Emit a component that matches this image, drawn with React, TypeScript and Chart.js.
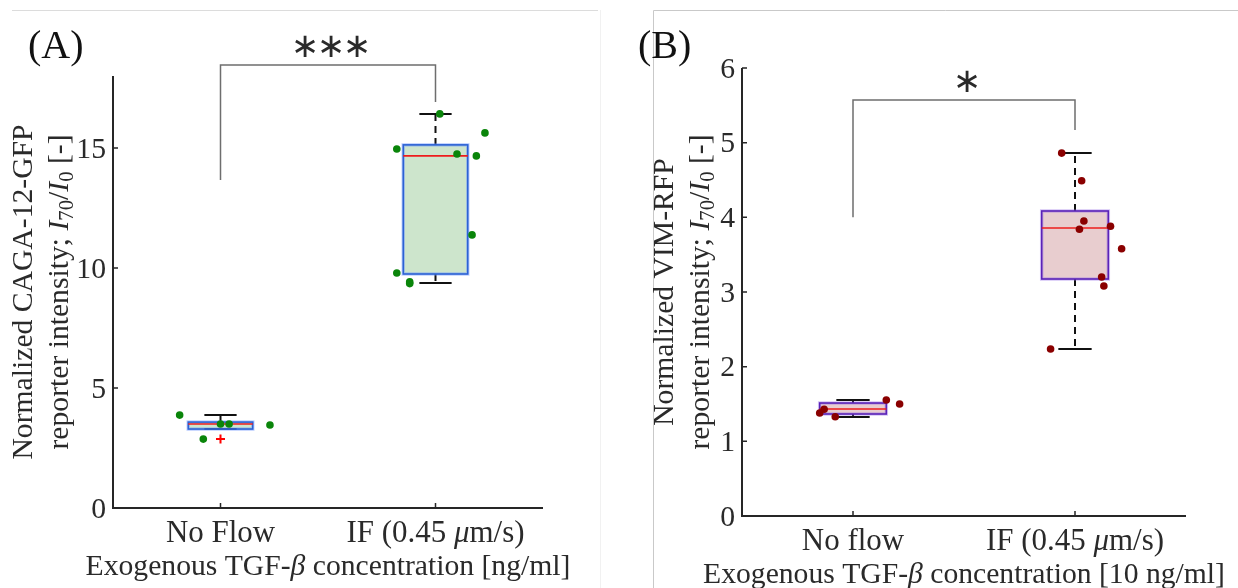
import { useEffect, useRef } from "react";
import { Chart, registerables } from "chart.js";
Chart.register(...registerables);

// ---------------- DATA ----------------
// Panel A (CAGA-12-GFP)
const categoriesA = ["No Flow", "IF (0.45 {μ}m/s)"];
const q1A = [3.29, 9.75];
const medianA = [3.5, 14.67];
const q3A = [3.58, 15.13];
const whiskerLowA = [3.29, 9.38];
const whiskerHighA = [3.87, 16.42];
const pointsNoFlowA = [3.87, 2.87, 3.5, 3.5, 3.46];
const jitterNoFlowA = [-0.19, -0.08, 0.0, 0.04, 0.23];
const pointsIFA = [16.42, 15.63, 14.96, 14.75, 14.67, 11.38, 9.79, 9.42, 9.35];
const jitterIFA = [0.02, 0.23, -0.18, 0.1, 0.19, 0.17, -0.18, -0.12, -0.12];
const outlierCatA = [1];
const outlierValA = [2.87];
const yTicksA = [0, 5, 10, 15];
const yMaxA = 18;
const yTitleA = ["Normalized CAGA-12-GFP", "reporter intensity; {I}_{70}/{I}_{0} [-]"];
const xTitleA = "Exogenous TGF-{β} concentration [ng/ml]";

// Panel B (VIM-RFP)
const categoriesB = ["No flow", "IF (0.45 {μ}m/s)"];
const q1B = [1.366, 3.174];
const medianB = [1.433, 3.857];
const q3B = [1.513, 4.085];
const whiskerLowB = [1.326, 2.236];
const whiskerHighB = [1.553, 4.86];
const pointsNoFlowB = [1.553, 1.5, 1.43, 1.38, 1.33];
const jitterNoFlowB = [0.15, 0.21, -0.13, -0.15, -0.08];
const pointsIFB = [4.86, 4.49, 3.95, 3.84, 3.88, 3.58, 3.2, 3.08, 2.236];
const jitterIFB = [-0.06, 0.03, 0.04, 0.02, 0.16, 0.21, 0.12, 0.13, -0.11];
const outlierCatB: number[] = [];
const outlierValB: number[] = [];
const yTicksB = [0, 1, 2, 3, 4, 5, 6];
const yMaxB = 6;
const yTitleB = ["Normalized VIM-RFP", "reporter intensity; {I}_{70}/{I}_{0} [-]"];
const xTitleB = "Exogenous TGF-{β} concentration [10 ng/ml]";

// significance brackets (data units)
const bracketA = { from: 1, to: 2, leftEnd: 13.67, rightEnd: 16.92, top: 18.46, label: "∗∗∗" };
const bracketB = { from: 1, to: 2, leftEnd: 4.0, rightEnd: 5.17, top: 5.57, label: "∗" };

// ---------------- STYLE / LAYOUT ----------------
const SERIF = '"Liberation Serif", "Times New Roman", serif';
const BOX_WIDTH = 0.3;
const CAP_WIDTH = 0.15;

type Seg = { t: string; it: boolean; sub: boolean };
function parseRich(s: string): Seg[] {
  const segs: Seg[] = [];
  const re = /_\{([^}]*)\}|\{([^}]*)\}/g;
  let last = 0;
  let m: RegExpExecArray | null;
  while ((m = re.exec(s))) {
    if (m.index > last) segs.push({ t: s.slice(last, m.index), it: false, sub: false });
    if (m[1] !== undefined) segs.push({ t: m[1], it: false, sub: true });
    else segs.push({ t: m[2], it: true, sub: false });
    last = re.lastIndex;
  }
  if (last < s.length) segs.push({ t: s.slice(last), it: false, sub: false });
  return segs;
}
const fontStr = (size: number, it: boolean) => `${it ? "italic " : ""}${size}px ${SERIF}`;
function richWidth(ctx: CanvasRenderingContext2D, segs: Seg[], size: number) {
  let w = 0;
  for (const g of segs) {
    ctx.font = fontStr(g.sub ? size * 0.7 : size, g.it);
    w += ctx.measureText(g.t).width;
  }
  return w;
}
function fitSize(ctx: CanvasRenderingContext2D, s: string, target: number) {
  return (100 * target) / richWidth(ctx, parseRich(s), 100);
}
function drawRich(ctx: CanvasRenderingContext2D, s: string, cx: number, cy: number, size: number, align = "center") {
  const segs = parseRich(s);
  const w = richWidth(ctx, segs, size);
  let x = align === "center" ? cx - w / 2 : align === "right" ? cx - w : cx;
  ctx.textAlign = "left";
  ctx.textBaseline = "alphabetic";
  const base = cy + size * 0.33;
  for (const g of segs) {
    const fs = g.sub ? size * 0.7 : size;
    ctx.font = fontStr(fs, g.it);
    ctx.fillText(g.t, x, g.sub ? base + size * 0.18 : base);
    x += ctx.measureText(g.t).width;
  }
}

type Panel = {
  categories: string[];
  q1: number[]; med: number[]; q3: number[]; wLo: number[]; wHi: number[];
  points: number[][]; jitter: number[][];
  outCat: number[]; outVal: number[];
  yTicks: number[]; yMax: number;
  yTitle: string[]; xTitle: string;
  bracket: typeof bracketA;
  label: string;
  fill: string; edge: string; halo: string; dot: string;
  w: number; pad: { left: number; right: number; top: number; bottom: number };
  yTitleOffsets: number[]; labelX: number; frame: "A" | "B";
};

const panelA: Panel = {
  categories: categoriesA, q1: q1A, med: medianA, q3: q3A, wLo: whiskerLowA, wHi: whiskerHighA,
  points: [pointsNoFlowA, pointsIFA], jitter: [jitterNoFlowA, jitterIFA],
  outCat: outlierCatA, outVal: outlierValA, yTicks: yTicksA, yMax: yMaxA,
  yTitle: yTitleA, xTitle: xTitleA, bracket: bracketA, label: "(A)",
  fill: "#cde5cc", edge: "#2c62d4", halo: "rgba(110,150,255,0.45)", dot: "#0a850a",
  w: 620, pad: { left: 113, right: 77, top: 76, bottom: 80 },
  yTitleOffsets: [91, 55], labelX: 28, frame: "A",
};
const panelB: Panel = {
  categories: categoriesB, q1: q1B, med: medianB, q3: q3B, wLo: whiskerLowB, wHi: whiskerHighB,
  points: [pointsNoFlowB, pointsIFB], jitter: [jitterNoFlowB, jitterIFB],
  outCat: outlierCatB, outVal: outlierValB, yTicks: yTicksB, yMax: yMaxB,
  yTitle: yTitleB, xTitle: xTitleB, bracket: bracketB, label: "(B)",
  fill: "#e8cdcf", edge: "#5a22b8", halo: "rgba(150,110,230,0.4)", dot: "#8a0000",
  w: 618, pad: { left: 122, right: 52, top: 68, bottom: 72 },
  yTitleOffsets: [79, 43], labelX: 18, frame: "B",
};

function makePlugin(p: Panel) {
  return {
    id: "boxes" + p.frame,
    beforeDatasetsDraw(chart: any) {
      const ctx: CanvasRenderingContext2D = chart.ctx;
      const xs = chart.scales.x, ys = chart.scales.y;
      ctx.save();
      for (let ci = 0; ci < p.q1.length; ci++) {
        const cx = xs.getPixelForValue(ci + 1);
        const hw = xs.getPixelForValue(ci + 1 + BOX_WIDTH / 2) - cx;
        const cw = xs.getPixelForValue(ci + 1 + CAP_WIDTH / 2) - cx;
        const y1 = ys.getPixelForValue(p.q1[ci]);
        const y3 = ys.getPixelForValue(p.q3[ci]);
        const ym = ys.getPixelForValue(p.med[ci]);
        const yl = ys.getPixelForValue(p.wLo[ci]);
        const yh = ys.getPixelForValue(p.wHi[ci]);
        ctx.fillStyle = p.fill;
        ctx.fillRect(cx - hw, y3, 2 * hw, y1 - y3);
        // whiskers
        ctx.strokeStyle = "#111";
        ctx.lineWidth = 2;
        ctx.setLineDash([7, 5]);
        ctx.beginPath();
        ctx.moveTo(cx, y3); ctx.lineTo(cx, yh);
        ctx.moveTo(cx, y1); ctx.lineTo(cx, yl);
        ctx.stroke();
        ctx.setLineDash([]);
        ctx.beginPath();
        ctx.moveTo(cx - cw, yh); ctx.lineTo(cx + cw, yh);
        ctx.moveTo(cx - cw, yl); ctx.lineTo(cx + cw, yl);
        ctx.stroke();
        // box edge
        ctx.strokeStyle = p.halo;
        ctx.lineWidth = 3.5;
        ctx.strokeRect(cx - hw, y3, 2 * hw, y1 - y3);
        ctx.strokeStyle = p.edge;
        ctx.lineWidth = 1.6;
        ctx.strokeRect(cx - hw, y3, 2 * hw, y1 - y3);
        // median
        ctx.strokeStyle = "#ee1c1c";
        ctx.lineWidth = 1.6;
        ctx.beginPath();
        ctx.moveTo(cx - hw, ym); ctx.lineTo(cx + hw, ym);
        ctx.stroke();
      }
      ctx.restore();
    },
    afterDraw(chart: any) {
      const ctx: CanvasRenderingContext2D = chart.ctx;
      const xs = chart.scales.x, ys = chart.scales.y;
      const a = chart.chartArea;
      ctx.save();
      // frame lines of figure panels
      ctx.lineWidth = 1;
      if (p.frame === "A") {
        ctx.strokeStyle = "#dcdcdc";
        ctx.beginPath(); ctx.moveTo(12, 10.5); ctx.lineTo(598, 10.5); ctx.stroke();
        ctx.strokeStyle = "#f1f1f1";
        ctx.beginPath(); ctx.moveTo(600.5, 10); ctx.lineTo(600.5, 588); ctx.stroke();
      } else {
        ctx.strokeStyle = "#c9c9c9";
        ctx.beginPath(); ctx.moveTo(33.5, 588); ctx.lineTo(33.5, 10.5); ctx.lineTo(618, 10.5); ctx.stroke();
      }
      // axes
      ctx.strokeStyle = "#262626";
      ctx.lineWidth = 2;
      ctx.beginPath();
      ctx.moveTo(a.left, a.top); ctx.lineTo(a.left, a.bottom); ctx.lineTo(a.right, a.bottom);
      ctx.stroke();
      ctx.lineWidth = 1.5;
      ctx.beginPath();
      for (const t of p.yTicks) {
        const y = ys.getPixelForValue(t);
        ctx.moveTo(a.left, y); ctx.lineTo(a.left + 5, y);
      }
      for (let ci = 0; ci < p.categories.length; ci++) {
        const x = xs.getPixelForValue(ci + 1);
        ctx.moveTo(x, a.bottom); ctx.lineTo(x, a.bottom - 5);
      }
      ctx.stroke();
      // text
      ctx.fillStyle = "#2a2a2a";
      const tickSize = fitSize(ctx, categoriesA[1], 178);
      const titleSize = fitSize(ctx, xTitleA, 485);
      for (const t of p.yTicks) {
        drawRich(ctx, String(t), a.left - 7, ys.getPixelForValue(t), tickSize * 0.96, "right");
      }
      for (let ci = 0; ci < p.categories.length; ci++) {
        drawRich(ctx, p.categories[ci], xs.getPixelForValue(ci + 1), a.bottom + 24, tickSize);
      }
      drawRich(ctx, p.xTitle, (a.left + a.right) / 2, a.bottom + 57, titleSize);
      const ymid = (a.top + a.bottom) / 2;
      p.yTitle.forEach((line, i) => {
        ctx.save();
        ctx.translate(a.left - p.yTitleOffsets[i], ymid);
        ctx.rotate(-Math.PI / 2);
        drawRich(ctx, line, 0, 0, titleSize);
        ctx.restore();
      });
      // panel label
      ctx.fillStyle = "#111";
      ctx.font = `40px ${SERIF}`;
      ctx.textAlign = "left";
      ctx.textBaseline = "alphabetic";
      ctx.fillText(p.label, p.labelX, 58);
      // bracket
      const b = p.bracket;
      const xl = xs.getPixelForValue(b.from), xr = xs.getPixelForValue(b.to);
      const yt = ys.getPixelForValue(b.top);
      ctx.strokeStyle = "#6e6e6e";
      ctx.lineWidth = 1.5;
      ctx.beginPath();
      ctx.moveTo(xl, ys.getPixelForValue(b.leftEnd));
      ctx.lineTo(xl, yt); ctx.lineTo(xr, yt);
      ctx.lineTo(xr, ys.getPixelForValue(b.rightEnd));
      ctx.stroke();
      ctx.fillStyle = "#2a2a2a";
      ctx.font = `34px "DejaVu Sans", sans-serif`;
      ctx.textAlign = "center";
      ctx.textBaseline = "middle";
      const n = b.label.length;
      const mid = (xl + xr) / 2;
      for (let i = 0; i < n; i++) {
        ctx.fillText(b.label[i], mid + 3 + (i - (n - 1) / 2) * 26, yt - 17);
      }
      ctx.restore();
    },
  };
}

function makeChart(canvas: HTMLCanvasElement, p: Panel) {
  const datasets: any[] = p.points.map((vals, ci) => ({
    data: vals.map((v, i) => ({ x: ci + 1 + p.jitter[ci][i], y: v })),
    pointRadius: 3.8,
    pointBackgroundColor: p.dot,
    pointBorderWidth: 0,
    showLine: false,
  }));
  datasets.push({
    data: p.outVal.map((v, i) => ({ x: p.outCat[i], y: v })),
    pointStyle: "cross",
    pointRadius: 4.5,
    pointBorderColor: "#ff0000",
    pointBorderWidth: 2,
    showLine: false,
  });
  return new Chart(canvas, {
    type: "scatter",
    data: { datasets },
    options: {
      animation: false,
      responsive: false,
      maintainAspectRatio: false,
      events: [],
      layout: { padding: p.pad },
      plugins: { legend: { display: false }, tooltip: { enabled: false } },
      scales: {
        x: { type: "linear", display: false, min: 0.5, max: 2.5 },
        y: { type: "linear", display: false, min: 0, max: p.yMax },
      },
    },
    plugins: [makePlugin(p)],
  } as any);
}

export default function App() {
  const refA = useRef<HTMLCanvasElement>(null);
  const refB = useRef<HTMLCanvasElement>(null);
  useEffect(() => {
    document.body.style.margin = "0";
    const a = makeChart(refA.current!, panelA);
    const b = makeChart(refB.current!, panelB);
    return () => {
      a.destroy();
      b.destroy();
    };
  }, []);
  return (
    <div style={{ position: "fixed", left: 0, top: 0, width: 1238, height: 588, background: "#fff", overflow: "hidden" }}>
      <canvas ref={refA} width={620} height={588} style={{ position: "absolute", left: 0, top: 0, width: 620, height: 588 }} />
      <canvas ref={refB} width={618} height={588} style={{ position: "absolute", left: 620, top: 0, width: 618, height: 588 }} />
    </div>
  );
}
